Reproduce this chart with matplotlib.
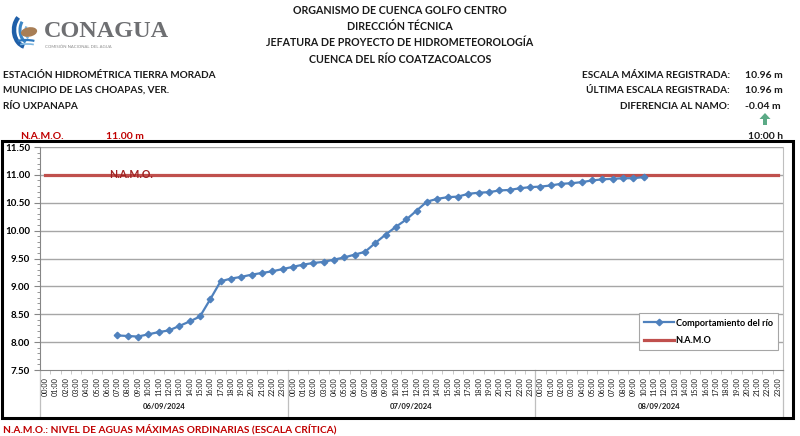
import matplotlib
matplotlib.use('Agg')
import matplotlib.pyplot as plt
from matplotlib.patches import Rectangle, Polygon, Arc, Ellipse
from matplotlib.lines import Line2D
from matplotlib.ticker import MultipleLocator, FixedLocator
import matplotlib.transforms as mtransforms

# ---------------- data ----------------
dates = ['06/09/2024', '07/09/2024', '08/09/2024']
hours = ['00:00', '01:00', '02:00', '03:00', '04:00', '05:00', '06:00', '07:00',
         '08:00', '09:00', '10:00', '11:00', '12:00', '13:00', '14:00', '15:00',
         '16:00', '17:00', '18:00', '19:00', '20:00', '21:00', '22:00', '23:00']
first_reading_index = 7   # 06/09/2024 07:00
river_levels = [
    # 06/09 07:00 - 23:00
    8.12, 8.11, 8.10, 8.14, 8.18, 8.21, 8.29, 8.37, 8.46, 8.77, 9.09, 9.14, 9.17,
    9.21, 9.24, 9.27, 9.31,
    # 07/09 00:00 - 23:00
    9.35, 9.39, 9.42, 9.44, 9.48, 9.52, 9.57, 9.62, 9.78, 9.93, 10.07, 10.20,
    10.36, 10.52, 10.57, 10.60, 10.61, 10.66, 10.68, 10.69, 10.72, 10.73, 10.76, 10.78,
    # 08/09 00:00 - 10:00
    10.79, 10.81, 10.84, 10.85, 10.87, 10.90, 10.92, 10.93, 10.94, 10.94, 10.96,
]
namo_level = 11.00
max_scale = 10.96
last_scale = 10.96
diff_namo = -0.04
last_time = '10:00 h'
y_ticks = [7.50, 8.00, 8.50, 9.00, 9.50, 10.00, 10.50, 11.00, 11.50]

# ---------------- figure ----------------
W, H = 800, 436
fig = plt.figure(figsize=(W / 100, H / 100), dpi=100)
fig.patch.set_facecolor('white')
FAM = ['Lato', 'DejaVu Sans']
plt.rcParams['font.family'] = FAM

def fx(x):
    return x / W

def fy(y):
    return 1 - y / H

RED = '#C00000'
TXT = '#1a1a1a'
FS = 7.2

# header
header = ['ORGANISMO DE CUENCA GOLFO CENTRO', 'DIRECCIÓN TÉCNICA',
          'JEFATURA DE PROYECTO DE HIDROMETEOROLOGÍA', 'CUENCA DEL RÍO COATZACOALCOS']
for i, t in enumerate(header):
    fig.text(fx(400), fy(14 + 16.2 * i), t, ha='center', va='baseline',
             fontsize=7.7, fontweight='bold', color=TXT)

left_lines = ['ESTACIÓN HIDROMÉTRICA TIERRA MORADA', 'MUNICIPIO DE LAS CHOAPAS, VER.', 'RÍO UXPANAPA']
for i, t in enumerate(left_lines):
    fig.text(fx(3), fy(77.5 + 15.5 * i), t, ha='left', va='baseline',
             fontsize=FS, fontweight='bold', color=TXT)

right_labels = ['ESCALA MÁXIMA REGISTRADA:', 'ÚLTIMA ESCALA REGISTRADA:', 'DIFERENCIA AL NAMO:']
right_values = [f'{max_scale:.2f} m', f'{last_scale:.2f} m', f'{diff_namo:.2f} m']
for i, (l, v) in enumerate(zip(right_labels, right_values)):
    yb = fy(77.5 + 15.5 * i)
    fig.text(fx(730), yb, l, ha='right', va='baseline', fontsize=FS, fontweight='bold', color=TXT)
    fig.text(fx(745), yb, v, ha='left', va='baseline', fontsize=FS + 0.3, fontweight='bold', color=TXT)

# green arrow
arrow_px = [(765, 113), (770.5, 119), (767, 119), (767, 125), (763, 125), (763, 119), (759.5, 119)]
fig.add_artist(Polygon([(fx(a), fy(b)) for a, b in arrow_px], closed=True,
                       transform=fig.transFigure, facecolor='#5BAA86', edgecolor='none'))
fig.text(fx(783), fy(139), last_time, ha='right', va='baseline', fontsize=FS + 0.3,
         fontweight='bold', color=TXT)

fig.text(fx(20), fy(139), 'N.A.M.O.', ha='left', va='baseline', fontsize=FS + 0.3,
         fontweight='bold', color=RED)
fig.text(fx(106), fy(139), f'{namo_level:.2f} m', ha='left', va='baseline', fontsize=FS + 0.3,
         fontweight='bold', color=RED)

fig.text(fx(3), fy(432), 'N.A.M.O.: NIVEL DE AGUAS MÁXIMAS ORDINARIAS (ESCALA CRÍTICA)',
         ha='left', va='baseline', fontsize=FS + 0.1, fontweight='bold', color=RED)

# logo
fig.text(fx(44), fy(37), 'CONAGUA', ha='left', va='baseline', fontsize=17.5,
         family=['Liberation Serif', 'DejaVu Serif'], fontweight='bold', color='#6E6F72')
fig.text(fx(45), fy(47.5), 'COMISIÓN NACIONAL DEL AGUA', ha='left', va='baseline',
         fontsize=3.1, color='#8a8a8a')
lax = fig.add_axes([fx(5), fy(50), fx(38), 42 / H])
lax.set_xlim(5, 43)
lax.set_ylim(50, 8)
lax.axis('off')
lax.add_patch(Arc((27, 30), 26, 34, theta1=100, theta2=235, lw=3.2, color='#1F5FA8'))
lax.add_patch(Arc((29, 30), 18, 26, theta1=105, theta2=230, lw=2.2, color='#3C86C6'))
lax.add_patch(Arc((31, 31), 11, 17, theta1=110, theta2=225, lw=1.6, color='#7DB6E0'))
lax.add_patch(Ellipse((29, 32), 15, 8, angle=-10, color='#A87E55'))
lax.add_patch(Arc((26, 44), 26, 8, theta1=200, theta2=340, lw=1.6, color='#2D78BE'))
lax.add_patch(Arc((27, 47), 24, 6, theta1=200, theta2=340, lw=1.2, color='#7DB6E0'))

# black frame around chart
fig.add_artist(Rectangle((fx(1.5), fy(418)), fx(793 - 1.5), (418 - 141) / H,
                         transform=fig.transFigure, fill=False, edgecolor='black', lw=2.2))

# ---------------- chart ----------------
ax = fig.add_axes([fx(40), fy(370), fx(783 - 40), (370 - 147) / H])
n_cat = len(dates) * len(hours)
cats = list(range(n_cat))
ax.set_xlim(-0.5, n_cat - 0.5)
ax.set_ylim(y_ticks[0], y_ticks[-1])

GRID = '#A6A6A6'
for yv in y_ticks[1:]:
    ax.axhline(yv, color=GRID, lw=1.0, zorder=0)

ax.plot(cats, [namo_level] * n_cat, color='#C0504D', lw=2.3, zorder=2, label='N.A.M.O')
xs = list(range(first_reading_index, first_reading_index + len(river_levels)))
ax.plot(xs, river_levels, color='#4F81BD', lw=1.6, marker='D', markersize=3.3,
        zorder=3, label='Comportamiento del río')
ax.text(8.3, namo_level, 'N.A.M.O.', ha='center', va='center', fontsize=7.6,
        fontweight='bold', color='#A02222', zorder=4)

for s in ['top']:
    ax.spines[s].set_visible(False)
ax.spines['left'].set_color('#868686')
ax.spines['bottom'].set_color('#868686')
ax.spines['right'].set_color('#BFBFBF')

ax.yaxis.set_major_locator(FixedLocator(y_ticks))
ax.yaxis.set_minor_locator(MultipleLocator(0.1))
ax.set_yticklabels([f'{v:.2f}' for v in y_ticks])
ax.tick_params(axis='y', which='major', direction='out', length=4, color='#868686',
               labelsize=7, pad=3)
ax.tick_params(axis='y', which='minor', direction='out', length=2, color='#868686')
for lb in ax.get_yticklabels():
    lb.set_fontweight('bold')

ax.set_xticks(cats)
ax.set_xticklabels(hours * len(dates), rotation=90, fontsize=5.2)
ax.xaxis.set_minor_locator(FixedLocator([c - 0.5 for c in range(n_cat + 1)]))
ax.tick_params(axis='x', which='major', length=0, pad=5, colors=TXT)
ax.tick_params(axis='x', which='minor', direction='out', length=3, color='#BFBFBF')

trans = mtransforms.blended_transform_factory(ax.transData, ax.transAxes)
bottom_ax = -(418 - 370) / (370 - 147)
for k in range(len(dates) + 1):
    xb = k * len(hours) - 0.5
    ax.add_line(Line2D([xb, xb], [0, bottom_ax], transform=trans, color='#BFBFBF',
                       lw=0.9, clip_on=False))
for k, d in enumerate(dates):
    ax.text(k * len(hours) + (len(hours) - 1) / 2, -(406 - 370) / (370 - 147), d,
            transform=trans, ha='center', va='center', fontsize=5.5, fontweight='bold',
            color=TXT)

handles, labels = ax.get_legend_handles_labels()
leg = ax.legend(handles[::-1], labels[::-1], loc='upper right',
                bbox_to_anchor=(fx(778), fy(313)), bbox_transform=fig.transFigure,
                borderaxespad=0, fancybox=False, framealpha=1, edgecolor='#A6A6A6',
                prop={'size': 6.6, 'weight': 'bold'}, handlelength=3.2, handletextpad=0.2,
                borderpad=0.6, labelspacing=0.9)
leg.get_frame().set_linewidth(0.8)

fig.savefig('out.png', dpi=100, facecolor='white')
